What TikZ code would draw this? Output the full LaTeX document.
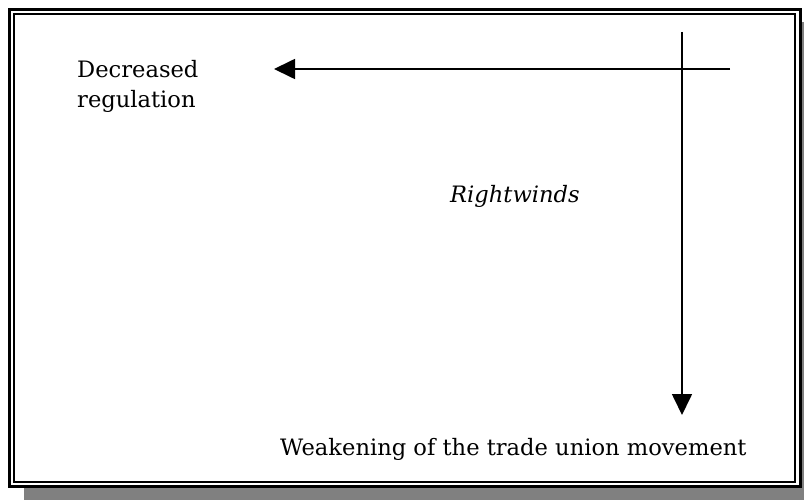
\documentclass[tikz,border=0pt]{standalone}
\usepackage{fontspec}
\setmainfont{DejaVu Serif}
\usetikzlibrary{arrows.meta}
\tikzset{
  frameouter/.style={draw=black, line width=3pt, fill=white},
  frameinner/.style={draw=black, line width=2pt},
  shadowbox/.style={fill=black!50, draw=none},
  flow/.style={draw=black, line width=1.7pt, -{Triangle[length=21pt,width=20pt]}},
  label/.style={inner sep=0pt, font=\fontsize{22.6}{30}\selectfont},
}
\begin{document}
\begin{tikzpicture}[x=1pt,y=-1pt]
  \useasboundingbox (0,0) rectangle (804,500);
  % drop shadow and double frame
  \path[shadowbox] (24,22) rectangle (830,520);
  \path[frameouter] (9.5,9.5) rectangle (800.5,486.5);
  \path[frameinner] (14,14) rectangle (795,482);
  % labels
  \node[label, anchor=base west, align=left] (dec) at (77,108) {Decreased\\regulation};
  \node[label, anchor=base west] (right) at (450,203) {\itshape Rightwinds};
  \node[label, anchor=base west] (weak) at (280,455) {Weakening of the trade union movement};
  % arrows
  \coordinate (hs) at (730,69);
  \coordinate (he) at (274,69);
  \coordinate (vs) at (682,32);
  \coordinate (ve) at (682,415);
  \draw[flow] (hs) -- (he);
  \draw[flow] (vs) -- (ve);
\end{tikzpicture}
\end{document}
